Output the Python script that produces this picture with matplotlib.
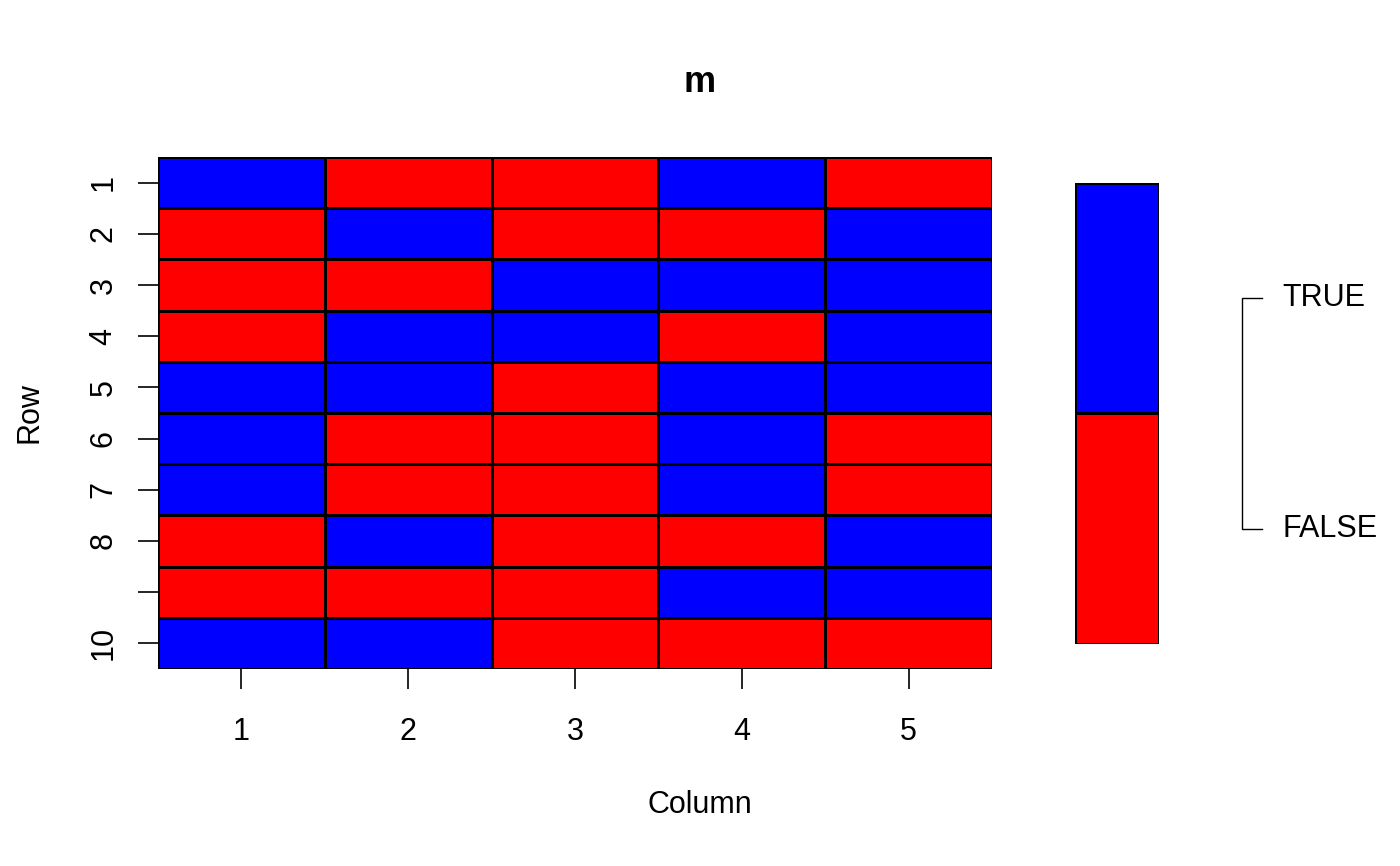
import matplotlib
matplotlib.use('Agg')
import matplotlib.pyplot as plt
from matplotlib.colors import ListedColormap
import numpy as np

plt.rcParams['font.family'] = ['Liberation Sans', 'DejaVu Sans']

# 矩阵数据 (True = 蓝, False = 红)
m = np.array([[1, 0, 0, 1, 0],
              [0, 1, 0, 0, 1],
              [0, 0, 1, 1, 1],
              [0, 1, 1, 0, 1],
              [1, 1, 0, 1, 1],
              [1, 0, 0, 1, 0],
              [1, 0, 0, 1, 0],
              [0, 1, 0, 0, 1],
              [0, 0, 0, 1, 1],
              [1, 1, 0, 0, 0]], dtype=bool)
rows = [1, 2, 3, 4, 5, 6, 7, 8, 9, 10]
cols = [1, 2, 3, 4, 5]
row_labels = ['1', '2', '3', '4', '5', '6', '7', '8', '', '10']
levels = ['FALSE', 'TRUE']
colors = ['#FF0000', '#0000FF']

cmap = ListedColormap(colors)
fs = 22

fig = plt.figure(figsize=(14, 8.66), dpi=100)

# 主图
ax = fig.add_axes([0.1129, 0.2275, 0.5957, 0.5912])
xe = np.arange(len(cols) + 1) + 0.5
ye = np.arange(len(rows) + 1) + 0.5
ax.pcolormesh(xe, ye, m.astype(int), cmap=cmap, vmin=0, vmax=1,
              edgecolors='black', linewidth=0.8)
ax.set_xlim(0.5, len(cols) + 0.5)
ax.set_ylim(len(rows) + 0.5, 0.5)
for s in ax.spines.values():
    s.set_visible(False)
ax.set_xticks(cols)
ax.set_xticklabels([str(c) for c in cols])
ax.set_yticks(rows)
ax.set_yticklabels(row_labels, rotation=90, va='center')
ax.tick_params(length=14.4, width=1.2, labelsize=fs, pad=20)
ax.tick_params(axis='y', pad=14)
ax.set_ylabel('Row', fontsize=fs, labelpad=32)

# 标题和x轴标签居中于整个图
fig.text(0.5, 0.9053, 'm', fontsize=26, fontweight='bold', ha='center', va='center')
fig.text(0.5, 0.0704, 'Column', fontsize=fs, ha='center', va='center')

# 图例色条
lax = fig.add_axes([0.7679, 0.2564, 0.06, 0.5323])
lax.pcolormesh([0, 1], [0, 1, 2], np.array([[0], [1]]), cmap=cmap,
               vmin=0, vmax=1, edgecolors='black', linewidth=1.0)
lax.set_xlim(0, 1)
lax.set_ylim(0, 2)
lax.set_xticks([])
lax.set_yticks([])
for s in lax.spines.values():
    s.set_visible(False)

# 括号形刻度
tr = lax.get_yaxis_transform()
lax.plot([2.226, 1.988, 1.988, 2.226], [1.5, 1.5, 0.5, 0.5], color='black',
         linewidth=1.0, transform=tr, clip_on=False)
for yv, lab in zip([0.5, 1.5], levels):
    lax.text(2.464, yv, lab, transform=tr, fontsize=fs, va='center', ha='left')

fig.savefig('out.png', dpi=100)
